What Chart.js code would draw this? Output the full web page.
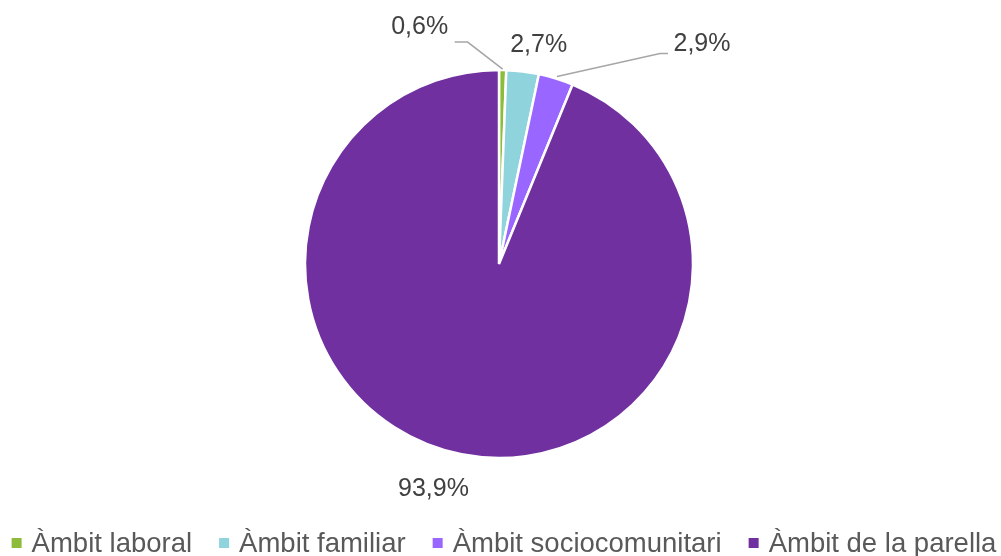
<!DOCTYPE html>
<html>
<head>
<meta charset="utf-8">
<script src="https://cdn.jsdelivr.net/npm/chart.js@4"></script>
<style>
  html, body { margin: 0; padding: 0; background: #fff; }
  #wrap { width: 1001px; height: 556px; }
</style>
</head>
<body>
<div id="wrap"><canvas id="ambitChart" width="1001" height="556"></canvas></div>
<script>
const ambits = ['Àmbit laboral', 'Àmbit familiar', 'Àmbit sociocomunitari', 'Àmbit de la parella'];
const percents = [0.6, 2.7, 2.9, 93.9];
const percentLabels = ['0,6%', '2,7%', '2,9%', '93,9%'];
const sliceColors = ['#8cbc3a', '#8fd3dc', '#9966ff', '#7030a0'];

// label offset from the outer middle point of each slice, and leader line points (same origin)
const labelOffsets = [[-83, -43], [16, -26], [146, -34], [-28, 35]];
const leaderLines = [
    [[0, -1], [-35, -28], [-48, -28]],
    null,
    [[1, -2], [104, -25], [112, -25]],
    null
];

const sliceLabels = {
    id: 'sliceLabels',
    afterDatasetsDraw(chart) {
        const ctx = chart.ctx;
        const arcs = chart.getDatasetMeta(0).data;
        ctx.save();
        arcs.forEach((arc, i) => {
            const mid = (arc.startAngle + arc.endAngle) / 2;
            const px = arc.x + Math.cos(mid) * arc.outerRadius;
            const py = arc.y + Math.sin(mid) * arc.outerRadius;
            if (leaderLines[i]) {
                ctx.strokeStyle = '#a6a6a6';
                ctx.lineWidth = 1.5;
                ctx.beginPath();
                leaderLines[i].forEach((p, k) => {
                    if (k == 0) ctx.moveTo(px + p[0], py + p[1]);
                    else ctx.lineTo(px + p[0], py + p[1]);
                });
                ctx.stroke();
            }
            ctx.fillStyle = '#404040';
            ctx.font = '25px "Liberation Sans", Arial, sans-serif';
            ctx.textAlign = 'center';
            ctx.textBaseline = 'middle';
            ctx.fillText(percentLabels[i], px + labelOffsets[i][0], py + labelOffsets[i][1]);
        });
        ctx.restore();
    }
};

// legend row at the bottom, same look as the office chart
const bottomLegend = {
    id: 'bottomLegend',
    afterDraw(chart) {
        const ctx = chart.ctx;
        ctx.save();
        ctx.font = '27.5px "Liberation Sans", Arial, sans-serif';
        ctx.textBaseline = 'alphabetic';
        ctx.textAlign = 'left';
        const box = 10, toText = 20, gap = 27;
        const widths = ambits.map(t => ctx.measureText(t).width);
        let total = widths.reduce((a, b) => a + b, 0) + ambits.length * toText + (ambits.length - 1) * gap;
        let x = 504 - total / 2;
        ambits.forEach((name, i) => {
            ctx.fillStyle = sliceColors[i];
            ctx.fillRect(x, 538, box, box);
            ctx.fillStyle = '#595959';
            ctx.fillText(name, x + toText, 552);
            x += toText + widths[i] + gap;
        });
        ctx.restore();
    }
};

const context = document.getElementById('ambitChart').getContext('2d');
new Chart(context, {
    type: 'pie',
    data: {
        labels: ambits,
        datasets: [{
            data: percents,
            backgroundColor: sliceColors,
            borderColor: '#ffffff',
            borderWidth: 2.5,
            radius: 194
        }]
    },
    options: {
        responsive: false,
        animation: false,
        layout: { padding: { left: 0, right: 3, top: 0, bottom: 28 } },
        plugins: {
            legend: { display: false },
            tooltip: { enabled: false }
        }
    },
    plugins: [sliceLabels, bottomLegend]
});
</script>
</body>
</html>
